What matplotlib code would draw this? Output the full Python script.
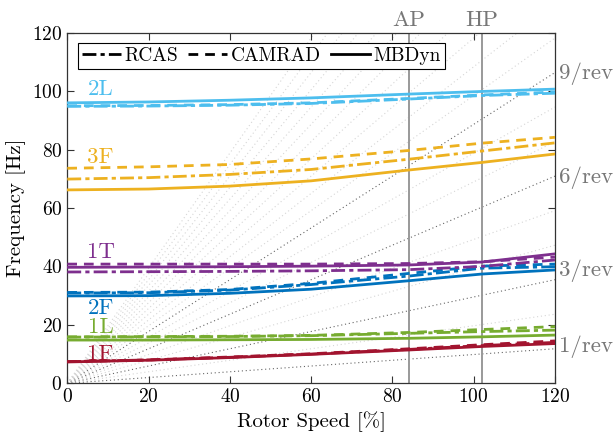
import numpy as np
import matplotlib
matplotlib.use('Agg')
import matplotlib.pyplot as plt
from matplotlib.lines import Line2D

plt.rcParams['font.family'] = ['cmr10', 'DejaVu Serif']
plt.rcParams['mathtext.fontset'] = 'cm'
plt.rcParams['axes.formatter.use_mathtext'] = True
plt.rcParams['axes.unicode_minus'] = False

# rotor speed stations [%]
speed = [0, 20, 40, 60, 84, 102, 120]

# frequencies [Hz] per mode: (RCAS, CAMRAD, MBDyn)
f_1F = ([7.4, 8.0, 8.9, 10.0, 11.6, 12.9, 14.0],
        [7.4, 8.0, 9.0, 10.1, 11.8, 13.2, 14.5],
        [7.3, 7.9, 8.8, 9.9, 11.4, 12.6, 13.6])
f_1L = ([15.8, 15.9, 16.0, 16.3, 17.1, 17.7, 18.2],
        [15.9, 16.0, 16.1, 16.4, 17.4, 18.4, 19.4],
        [14.8, 14.8, 14.9, 15.0, 15.4, 15.9, 16.5])
f_2F = ([30.9, 31.0, 31.9, 33.8, 36.7, 39.4, 39.9],
        [31.1, 31.2, 32.1, 34.2, 37.6, 40.1, 40.8],
        [29.9, 30.0, 30.8, 32.2, 35.1, 37.4, 38.8])
f_1T = ([38.1, 38.2, 38.3, 38.5, 38.9, 40.0, 42.2],
        [40.8, 40.8, 40.8, 40.8, 41.0, 41.6, 43.2],
        [39.7, 39.8, 39.9, 40.1, 40.5, 41.5, 44.3])
f_3F = ([69.9, 70.4, 71.5, 73.2, 76.7, 79.5, 82.3],
        [73.6, 74.1, 74.9, 76.8, 79.7, 82.2, 84.2],
        [66.2, 66.5, 67.5, 69.3, 73.0, 75.6, 78.5])
f_2L = ([94.8, 94.9, 95.2, 95.8, 97.3, 98.5, 99.3],
        [95.0, 95.1, 95.4, 96.0, 97.5, 98.7, 99.7],
        [96.0, 96.3, 96.9, 97.7, 99.0, 99.9, 100.7])

modes = ['1F', '1L', '2F', '1T', '3F', '2L']
mode_data = [f_1F, f_1L, f_2F, f_1T, f_3F, f_2L]
mode_colors = ['#A2142F', '#77AC30', '#0072BD', '#7E2F8E', '#EDB120', '#4DBEEE']
label_y = [10.0, 19.3, 25.8, 45.0, 77.4, 100.5]

# fan plot
omega_100 = 9.85  # 1/rev at 100% [Hz]
n_revs = list(range(1, 21))
dark_revs = [1, 3, 6, 9]
rev_label_y = {1: 12.5, 3: 38.5, 6: 70.2, 9: 106.0}

AP = 84
HP = 102

fig = plt.figure(figsize=(6.15, 4.36), dpi=100)
ax = fig.add_axes([0.1094, 0.1209, 0.793, 0.804])

xs = np.array([0, 120])
for n in n_revs:
    if n in dark_revs:
        ax.plot(xs, n * omega_100 * xs / 100, color='#666666', lw=0.8,
                ls=(0, (1, 2.5)), zorder=1)
    else:
        ax.plot(xs, n * omega_100 * xs / 100, color='#d6d6d6', lw=0.8,
                ls=(0, (1, 2.5)), zorder=1)

for xv, name in [(AP, 'AP'), (HP, 'HP')]:
    ax.axvline(xv, color='#999999', lw=1.4, zorder=2)
    ax.text(xv, 120.8, name, ha='center', va='bottom', fontsize=16.5,
            color='#777777')

styles = [(0, (5, 1.5, 1.5, 1.5)), (0, (3.5, 2.5)), '-']
for name, data, c, ly in zip(modes, mode_data, mode_colors, label_y):
    for vals, st in zip(data, styles):
        ax.plot(speed, vals, color=c, lw=2, ls=st, zorder=3)
    ax.text(8.2, ly, name, color=c, fontsize=16.5, ha='center', va='center')

for n, yv in rev_label_y.items():
    ax.text(121, yv, f'{n}/rev', color='#777777', fontsize=16.5,
            ha='left', va='center', clip_on=False)

ax.set_xlim(0, 120)
ax.set_ylim(0, 120)
ax.set_xticks(range(0, 121, 20))
ax.set_yticks(range(0, 121, 20))
ax.tick_params(direction='in', top=True, right=True, labelsize=14,
               length=5, width=0.8, color='#333333')
for sp in ax.spines.values():
    sp.set_color('#333333')
    sp.set_linewidth(0.9)
ax.set_xlabel('Rotor Speed [%]', fontsize=15)
ax.set_ylabel('Frequency [Hz]', fontsize=15)

handles = [Line2D([], [], color='k', lw=2, ls=s) for s in styles]
leg = ax.legend(handles, ['RCAS', 'CAMRAD', 'MBDyn'], ncol=3, loc='upper left',
                bbox_to_anchor=(0.022, 0.971), borderaxespad=0, fontsize=14,
                handlelength=2.0, handletextpad=0.2, columnspacing=0.5,
                borderpad=0.2, fancybox=False, framealpha=1, edgecolor='k')
leg.get_frame().set_linewidth(0.8)

fig.savefig('out.png', dpi=100)
